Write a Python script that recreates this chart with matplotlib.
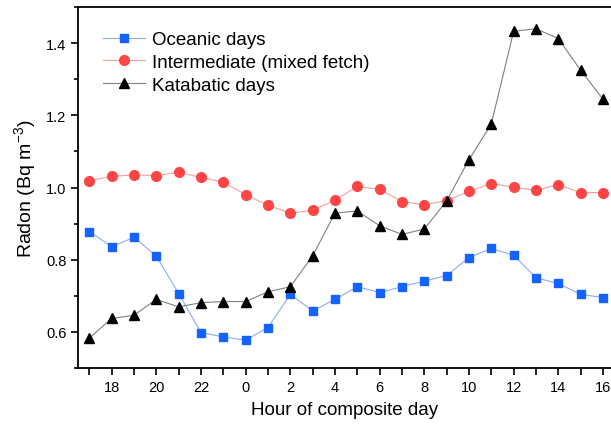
import matplotlib
matplotlib.use("Agg")
import matplotlib.pyplot as plt
from matplotlib.ticker import FixedLocator, FixedFormatter

plt.rcParams['font.family'] = ['Liberation Sans', 'DejaVu Sans']
plt.rcParams['mathtext.fontset'] = 'custom'
plt.rcParams['mathtext.rm'] = 'Liberation Sans'
plt.rcParams['mathtext.default'] = 'regular'

hours = [17, 18, 19, 20, 21, 22, 23, 0, 1, 2, 3, 4, 5, 6, 7, 8, 9, 10, 11, 12, 13, 14, 15, 16]
oceanic = [0.878, 0.836, 0.862, 0.810, 0.706, 0.598, 0.586, 0.577, 0.612, 0.704, 0.658, 0.690,
           0.725, 0.709, 0.725, 0.741, 0.756, 0.806, 0.831, 0.812, 0.750, 0.734, 0.704, 0.695]
intermediate = [1.019, 1.031, 1.035, 1.033, 1.042, 1.028, 1.015, 0.980, 0.951, 0.929, 0.937, 0.965,
                1.003, 0.995, 0.961, 0.952, 0.964, 0.989, 1.011, 1.001, 0.992, 1.008, 0.986, 0.986]
katabatic = [0.583, 0.637, 0.646, 0.690, 0.669, 0.681, 0.684, 0.684, 0.711, 0.725, 0.811, 0.929,
             0.935, 0.894, 0.870, 0.885, 0.963, 1.077, 1.176, 1.433, 1.440, 1.413, 1.325, 1.245]
tick_labels = ['18', '20', '22', '0', '2', '4', '6', '8', '10', '12', '14', '16']

x = list(range(len(hours)))

fig = plt.figure(figsize=(6.11, 4.27), dpi=100)
ax = fig.add_axes([0.128, 0.136, 0.872, 0.845])

ax.plot(x, oceanic, color='#8fa9f5', lw=0.8, marker='s', ms=6,
        mfc='#1463ff', mec='#1463ff', label='Oceanic days')
ax.plot(x, intermediate, color='#f5a0a0', lw=0.8, marker='o', ms=7,
        mfc='#ff4545', mec='#ff4545', label='Intermediate (mixed fetch)')
ax.plot(x, katabatic, color='#808080', lw=0.8, marker='^', ms=7.5,
        mfc='black', mec='black', label='Katabatic days')

ax.set_ylim(0.5, 1.5)
ax.set_xlim(-0.5, 23.36)

major_pos = [i for i, h in enumerate(hours) if h % 2 == 0]
ax.xaxis.set_major_locator(FixedLocator(major_pos))
ax.xaxis.set_major_formatter(FixedFormatter(tick_labels))
ax.xaxis.set_minor_locator(FixedLocator([i for i, h in enumerate(hours) if h % 2 == 1]))
ax.yaxis.set_major_locator(FixedLocator([0.6, 0.8, 1.0, 1.2, 1.4]))
ax.yaxis.set_minor_locator(FixedLocator([0.5, 0.7, 0.9, 1.1, 1.3, 1.5]))
ax.set_yticklabels(['0.6', '0.8', '1.0', '1.2', '1.4'])

ax.tick_params(axis='both', which='both', direction='out', labelsize=10.5, width=1.2)
ax.tick_params(axis='x', which='both', length=5)
ax.tick_params(axis='y', which='major', length=5)
ax.tick_params(axis='y', which='minor', length=3)
ax.spines['right'].set_visible(False)
for s in ['left', 'bottom', 'top']:
    ax.spines[s].set_linewidth(1.3)

ax.set_xlabel('Hour of composite day', fontsize=13.5, labelpad=5)
ax.set_ylabel('Radon (Bq m$^{-3}$)', fontsize=14, labelpad=6)

ax.legend(loc='upper left', bbox_to_anchor=(0.025, 0.965), frameon=False, fontsize=13.5,
          handlelength=2.25, handletextpad=0.35, labelspacing=0.3, borderaxespad=0.2)

fig.savefig('out.png', dpi=100)
